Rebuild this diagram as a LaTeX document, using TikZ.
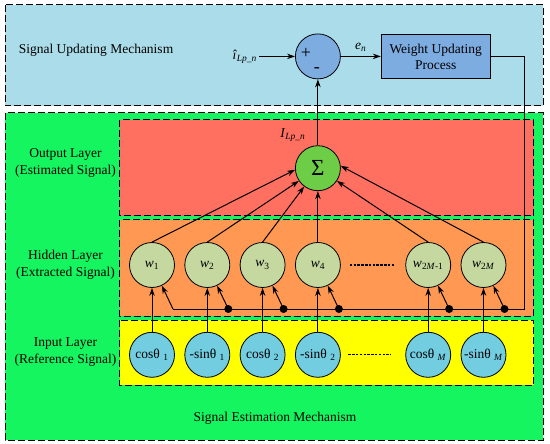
\documentclass[tikz,border=0pt]{standalone}
\usepackage{fontspec}
\setmainfont{Liberation Serif}
\usepackage{tikz}
\usetikzlibrary{positioning,arrows.meta,calc}

\definecolor{updback}{RGB}{170,221,233}
\definecolor{estback}{RGB}{20,245,95}
\definecolor{outlayer}{RGB}{255,112,96}
\definecolor{hidlayer}{RGB}{255,152,82}
\definecolor{inlayer}{RGB}{255,255,0}
\definecolor{sumfill}{RGB}{110,205,70}
\definecolor{wfill}{RGB}{196,216,160}
\definecolor{infill}{RGB}{115,205,225}
\definecolor{opfill}{RGB}{125,172,225}

\begin{document}
\begin{tikzpicture}[
  x=1pt, y=-1pt,
  panel/.style={draw, dash pattern=on 7pt off 3pt, line width=1pt},
  ttl/.style={font=\fontsize{13.5}{16.5}\selectfont, align=center, inner sep=1pt},
  lbl/.style={font=\fontsize{13.5}{16}\selectfont, inner sep=2pt},
  wnode/.style={draw, circle, fill=wfill, minimum size=45pt, inner sep=0pt, line width=0.8pt, font=\fontsize{13.5}{16}\selectfont},
  innode/.style={wnode, fill=infill},
  opbox/.style={draw, fill=opfill, minimum width=109pt, minimum height=44pt, align=center, line width=0.8pt, font=\fontsize{13.5}{16}\selectfont},
  arr/.style={-{Stealth[length=8pt,width=5.5pt]}, line width=1pt},
  ln/.style={line width=1pt},
  dotline/.style={dash pattern=on 2.5pt off 1.3pt, line width=1.2pt},
  node distance=9.5pt and 9.5pt
]
\useasboundingbox (0,0) rectangle (550,444);

% panels
\draw[panel, fill=updback] (5,5) rectangle (543,106);
\draw[panel, fill=estback] (5,113) rectangle (543,440);
\draw[panel, fill=outlayer] (119.5,120) rectangle (533.5,216);
\draw[panel, fill=hidlayer] (119.5,220) rectangle (533.5,316);
\draw[panel, fill=inlayer] (119.5,320) rectangle (533.5,385);

\node[ttl] (updttl) at (96,50) {Signal Updating Mechanism};
\node[ttl] (estttl) at (275,418) {Signal Estimation Mechanism};
\node[ttl] (outttl) at (65.5,163) {Output Layer\\(Estimated Signal)};
\node[ttl] (hidttl) at (65.5,265) {Hidden Layer\\(Extracted Signal)};
\node[ttl] (inttl) at (65.5,352) {Input Layer\\(Reference Signal)};

% hidden layer
\node[wnode] (w1) at (152,265) {\textit{w}\textsubscript{1}};
\node[wnode, right=of w1] (w2) {\textit{w}\textsubscript{2}};
\node[wnode, right=of w2] (w3) {\textit{w}\textsubscript{3}};
\node[wnode, right=of w3] (w4) {\textit{w}\textsubscript{4}};
\node[wnode, right=64.5pt of w4] (wm1) {\textit{w}\textsubscript{2\textit{M}-1}};
\node[wnode, right=of wm1] (wm) {\textit{w}\textsubscript{2\textit{M}}};
\draw[dotline, shorten <=9pt, shorten >=10pt] (w4) -- (wm1);

% input layer
\node[innode, below=44pt of w1] (c1) {cosθ~\textsubscript{1}};
\node[innode, below=44pt of w2] (s1) {-sinθ~\textsubscript{1}};
\node[innode, below=44pt of w3] (c2) {cosθ~\textsubscript{2}};
\node[innode, below=44pt of w4] (s2) {-sinθ~\textsubscript{2}};
\node[innode, below=44pt of wm1] (cm) {cosθ~\textsubscript{\textit{M}}};
\node[innode, below=44pt of wm] (sm) {-sinθ~\textsubscript{\textit{M}}};
\draw[dotline, shorten <=7.5pt, shorten >=14.5pt] (s2) -- (cm);

\foreach \i/\w in {c1/w1, s1/w2, c2/w3, s2/w4, cm/wm1, sm/wm}
  \draw[arr] (\i) -- (\w);

% output layer
\node[wnode, fill=sumfill, above=51pt of w4, font=\fontsize{23}{23}\selectfont] (sum) {Σ};
\draw[arr] (w1.north) -- (sum.184);
\draw[arr] (w2.north) -- (sum);
\draw[arr] (w3.north) -- (sum);
\draw[arr] (w4) -- (sum);
\draw[arr] (wm1.north) -- (sum);
\draw[arr] (wm.north) -- (sum.6);

% updating
\node[wnode, fill=opfill, above=66pt of sum] (diff) {};
\node[lbl, font=\fontsize{18}{18}\selectfont] (plus) at ($(diff)+(-12,-3)$) {+};
\node[lbl, font=\fontsize{18}{18}\selectfont] (minus) at ($(diff)+(-1,14)$) {-};
\node[opbox, right=40pt of diff] (wup) {Weight Updating\\Process};
\node[lbl, left=36pt of diff] (ihat) {\textit{î}\textsubscript{\textit{Lp\_n}}};
\draw[arr] (ihat) -- (diff);
\draw[arr] (diff) -- node[lbl, above=2pt] {\textit{e}\textsubscript{\textit{n}}} (wup);
\draw[arr] (sum) -- node[lbl, pos=0.16, left=10pt] {\textit{I}\textsubscript{\textit{Lp\_n}}} (diff);

% weight feedback
\coordinate (rc) at (524,309);
\foreach \w [count=\k] in {w1, w2, w3, w4, wm1, wm}
  \coordinate (j\k) at ($(\w)+(21,44)$);
\draw[ln] (wup.east) -| (rc) -- (j1);
\draw[arr] (j1) -- (w1);
\foreach \w [count=\k from 2] in {w2, w3, w4, wm1, wm} {
  \fill (j\k) circle[radius=4pt];
  \draw[arr] (j\k) -- (\w);
}
\end{tikzpicture}
\end{document}
